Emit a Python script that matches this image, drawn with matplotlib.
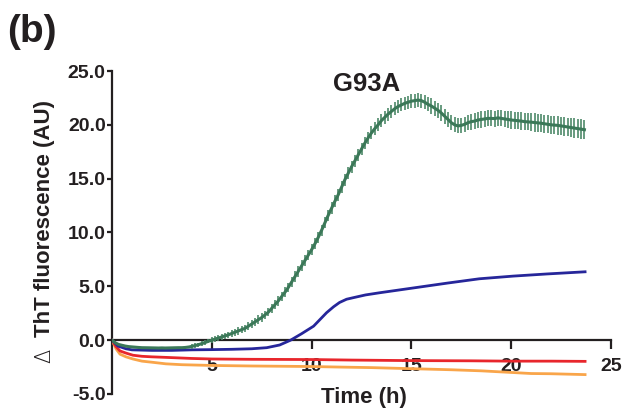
import numpy as np
import matplotlib
matplotlib.use("Agg")
import matplotlib.pyplot as plt

plt.rcParams["font.family"] = ["Liberation Sans", "DejaVu Sans"]
plt.rcParams["axes.unicode_minus"] = False

# G93A sample: mean signal every 10 min (h), with SEM read per hour
g93a_time = np.arange(143) / 6.0
g93a_mean = [
    0.0, -0.25, -0.4, -0.48, -0.55, -0.6,
    -0.63, -0.66, -0.68, -0.7, -0.7, -0.71,
    -0.72, -0.72, -0.73, -0.72, -0.73, -0.72,
    -0.72, -0.71, -0.7, -0.7, -0.68, -0.64,
    -0.58, -0.5, -0.42, -0.32, -0.22, -0.1,
    0.0, 0.1, 0.2, 0.3, 0.4, 0.5,
    0.62, 0.73, 0.85, 0.97, 1.1, 1.3,
    1.5, 1.7, 1.9, 2.1, 2.35, 2.6,
    2.95, 3.3, 3.65, 4.05, 4.45, 4.9,
    5.4, 5.9, 6.4, 6.9, 7.4, 7.9,
    8.4, 8.95, 9.55, 10.2, 10.9, 11.6,
    12.25, 12.9, 13.5, 14.2, 14.9, 15.5,
    16.1, 16.65, 17.2, 17.75, 18.3, 18.8,
    19.25, 19.65, 20.0, 20.4, 20.7, 21.0,
    21.25, 21.5, 21.7, 21.85, 22.0, 22.1,
    22.2, 22.25, 22.3, 22.25, 22.1, 21.9,
    21.75, 21.55, 21.35, 21.1, 20.8, 20.5,
    20.2, 20.0, 19.9, 19.95, 20.05, 20.2,
    20.3, 20.35, 20.45, 20.5, 20.55, 20.6,
    20.6, 20.58, 20.65, 20.6, 20.55, 20.5,
    20.45, 20.42, 20.38, 20.35, 20.3, 20.28,
    20.25, 20.22, 20.2, 20.15, 20.1, 20.05,
    20.0, 19.98, 19.95, 19.9, 19.85, 19.8,
    19.75, 19.7, 19.65, 19.6, 19.55,
]
g93a_sem_hourly = [0.03, 0.05, 0.05, 0.1, 0.2, 0.3, 0.35, 0.4, 0.45, 0.5,
                   0.5, 0.55, 0.55, 0.6, 0.6, 0.65, 0.7, 0.7, 0.75, 0.75,
                   0.8, 0.85, 0.85, 0.9]
g93a_sem = np.repeat(g93a_sem_hourly, 6)[:len(g93a_mean)]

blue_time = [0, 0.3, 0.7, 1, 2, 3, 4, 5, 6, 7, 7.75, 8.4, 8.95, 9.5, 10.1,
             10.75, 11.1, 11.4, 11.75, 12.1, 12.7, 13.4, 15.1, 16.8, 18.4,
             20.1, 21.8, 23.7]
blue_vals = [0, -0.55, -0.8, -0.9, -0.95, -0.95, -0.9, -0.88, -0.85, -0.8,
             -0.7, -0.45, 0.0, 0.6, 1.3, 2.55, 3.1, 3.5, 3.8, 3.95, 4.2,
             4.4, 4.85, 5.3, 5.7, 5.95, 6.15, 6.35]

red_time = [0, 0.2, 0.4, 0.7, 1.05, 1.5, 2, 2.7, 4, 5, 7, 10, 12, 15, 18,
            20, 22, 23.7]
red_vals = [0, -0.6, -1.0, -1.2, -1.4, -1.5, -1.55, -1.6, -1.7, -1.75,
            -1.78, -1.8, -1.85, -1.9, -1.92, -1.95, -1.95, -1.97]

orange_time = [0, 0.2, 0.4, 0.7, 1.05, 1.5, 2, 2.7, 3.5, 5, 7, 10, 11.4, 13,
               15, 17, 18.5, 20, 21, 22, 23.7]
orange_vals = [0, -0.8, -1.3, -1.55, -1.75, -1.95, -2.05, -2.2, -2.28, -2.35,
               -2.4, -2.45, -2.5, -2.55, -2.65, -2.75, -2.85, -3.0, -3.1,
               -3.12, -3.2]

x_ticks = [5, 10, 15, 20, 25]
y_ticks = [-5, 0, 5, 10, 15, 20, 25]
y_tick_labels = ["-5.0", "0.0", "5.0", "10.0", "15.0", "20.0", "25.0"]

ink = "#231f20"

fig = plt.figure(figsize=(6.32, 4.17), dpi=100)
ax = fig.add_axes([0.1772, 0.0552, 0.7896, 0.7745])

ax.plot(orange_time, orange_vals, color="#f9a54a", lw=2.0, zorder=3)
ax.plot(red_time, red_vals, color="#e8262c", lw=2.0, zorder=3.1)
ax.plot(blue_time, blue_vals, color="#26269a", lw=2.0, zorder=3.2)
ax.errorbar(g93a_time, g93a_mean, yerr=g93a_sem, fmt="none",
            ecolor="#4e8a6a", elinewidth=1.2, capsize=0, zorder=3.3)
ax.plot(g93a_time, g93a_mean, color="#3b7858", lw=2.2, zorder=3.4)

ax.set_xlim(0, 25)
ax.set_ylim(-5, 25)
ax.spines["top"].set_visible(False)
ax.spines["right"].set_visible(False)
ax.spines["bottom"].set_position(("data", 0))
for s in ("left", "bottom"):
    ax.spines[s].set_linewidth(1.6)
    ax.spines[s].set_color(ink)

ax.set_xticks(x_ticks)
ax.set_xticklabels([str(v) for v in x_ticks])
ax.set_yticks(y_ticks)
ax.set_yticklabels(y_tick_labels)
ax.tick_params(axis="x", direction="out", length=6.5, width=1.6, pad=6,
               colors=ink, labelsize=14)
ax.tick_params(axis="y", direction="out", length=3.5, width=1.6, pad=1,
               colors=ink, labelsize=14)
for lab in ax.get_xticklabels() + ax.get_yticklabels():
    lab.set_fontweight("bold")

fig.text(364 / 632, 1 - 397 / 417, "Time (h)", ha="center", va="center",
         fontsize=16, fontweight="bold", color=ink)
fig.text(45 / 632, 1 - 337 / 417, "ThT fluorescence (AU)", rotation=90,
         ha="center", va="bottom", fontsize=16, fontweight="bold", color=ink)
fig.text(44 / 632, 1 - 363 / 417, "\u0394", rotation=90, ha="center",
         va="bottom", fontsize=15, fontweight="light", color=ink,
         family=["DejaVu Sans"])
fig.text(367 / 632, 1 - 84 / 417, "G93A", ha="center", va="center",
         fontsize=18.5, fontweight="bold", color=ink)
fig.text(32 / 632, 1 - 32 / 417, "(b)", ha="center", va="center",
         fontsize=28, fontweight="bold", color=ink)

fig.savefig("out.png", dpi=100)
